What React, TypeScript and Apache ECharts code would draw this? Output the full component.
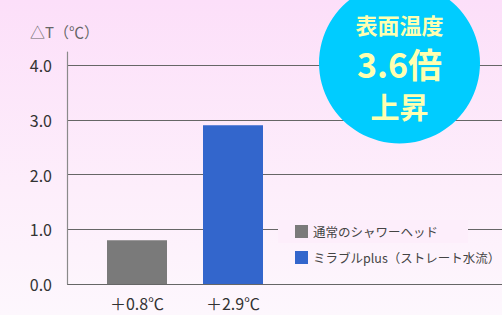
import React, { useEffect, useRef } from "react";
import * as echarts from "echarts";

const categories = ["＋0.8℃", "＋2.9℃"];
const seriesNames = ["通常のシャワーヘッド", "ミラブルplus（ストレート水流）"];
const normalValues: (number | string)[] = [0.8, "-"];
const mirableValues: (number | string)[] = ["-", 2.9];
const yTicks = { min: 0, max: 4, interval: 1 };
const badgeLines = ["表面温度", "3.6倍", "上昇"];
const yAxisTitle = "△T（℃）";

const FONT = '"Noto Sans CJK JP", "Noto Sans", sans-serif';

function badgeText(text: string, y: number, size: number) {
  return {
    type: "text",
    z: 11,
    x: 399.5,
    y,
    style: {
      text,
      fill: "#ffffb0",
      fontSize: size,
      lineHeight: size,
      fontWeight: "bold",
      fontFamily: FONT,
      align: "center",
      verticalAlign: "middle",
    },
  };
}

export default function App() {
  const ref = useRef<HTMLDivElement>(null);
  useEffect(() => {
    if (!ref.current) return;
    const chart = echarts.init(ref.current, undefined, { renderer: "svg" });
    chart.setOption({
      animation: false,
      textStyle: { fontFamily: FONT },
      grid: [
        { left: 67, right: 0, top: 65, bottom: 31 },
        { left: 67, width: 1, top: 52, bottom: 31 },
        { left: 89, width: 192, top: 65, bottom: 31 },
      ],
      xAxis: [
        { gridIndex: 0, type: "category", data: categories, show: false },
        { gridIndex: 1, type: "category", data: categories, show: false },
        {
          gridIndex: 2,
          type: "category",
          data: categories,
          axisLine: { show: false },
          axisTick: { show: false },
          axisLabel: { color: "#333", fontSize: 16, margin: 11, fontFamily: FONT },
        },
      ],
      yAxis: [
        {
          gridIndex: 0,
          type: "value",
          min: yTicks.min,
          max: yTicks.max,
          interval: yTicks.interval,
          axisLine: { show: false },
          axisTick: { show: false },
          axisLabel: {
            color: "#333",
            fontSize: 16,
            margin: 15,
            fontFamily: FONT,
            formatter: (v: number) => v.toFixed(1),
          },
          splitLine: { show: true, lineStyle: { color: "#666", width: 1 } },
        },
        {
          gridIndex: 1,
          type: "value",
          min: 0,
          max: 1,
          axisLine: { show: true, lineStyle: { color: "#8a8a8a", width: 1.2 } },
          axisTick: { show: false },
          axisLabel: { show: false },
          splitLine: { show: false },
        },
        {
          gridIndex: 2,
          type: "value",
          min: yTicks.min,
          max: yTicks.max,
          interval: yTicks.interval,
          show: false,
        },
      ],
      legend: [
        {
          data: [seriesNames[0]],
          left: 278,
          top: 220,
          padding: [5, 30, 5, 17],
          backgroundColor: "#fdeefb",
          itemWidth: 13,
          itemHeight: 13,
          itemGap: 8,
          icon: "rect",
          textStyle: { color: "#444", fontSize: 12.5, fontFamily: FONT },
        },
        {
          data: [seriesNames[1]],
          left: 295,
          top: 251,
          padding: 0,
          itemWidth: 13,
          itemHeight: 13,
          icon: "rect",
          textStyle: { color: "#444", fontSize: 12.5, fontFamily: FONT },
        },
      ],
      series: [
        {
          name: seriesNames[0],
          type: "bar",
          xAxisIndex: 2,
          yAxisIndex: 2,
          data: normalValues,
          barWidth: 60,
          barGap: "-100%",
          itemStyle: { color: "#7a7a7a" },
        },
        {
          name: seriesNames[1],
          type: "bar",
          xAxisIndex: 2,
          yAxisIndex: 2,
          data: mirableValues,
          barWidth: 60,
          barGap: "-100%",
          itemStyle: { color: "#3366cc" },
        },
      ],
      graphic: [
        {
          type: "text",
          left: 30,
          top: 24,
          style: { text: yAxisTitle, fill: "#666", fontSize: 15, fontFamily: FONT },
        },
        {
          type: "circle",
          z: 10,
          shape: { cx: 399.5, cy: 63, r: 80.5 },
          style: { fill: "#00ccff" },
        },
        badgeText(badgeLines[0], 24, 22),
        badgeText(badgeLines[1], 63, 34),
        badgeText(badgeLines[2], 106, 29),
      ],
    });
    return () => chart.dispose();
  }, []);
  return (
    <div
      style={{
        position: "fixed",
        left: 0,
        top: 0,
        width: 502,
        height: 315,
        background: "linear-gradient(180deg, #fcdff9 0%, #fdeefb 60%, #fdf7fd 100%)",
      }}
    >
      <div ref={ref} style={{ width: 502, height: 315 }} />
    </div>
  );
}
